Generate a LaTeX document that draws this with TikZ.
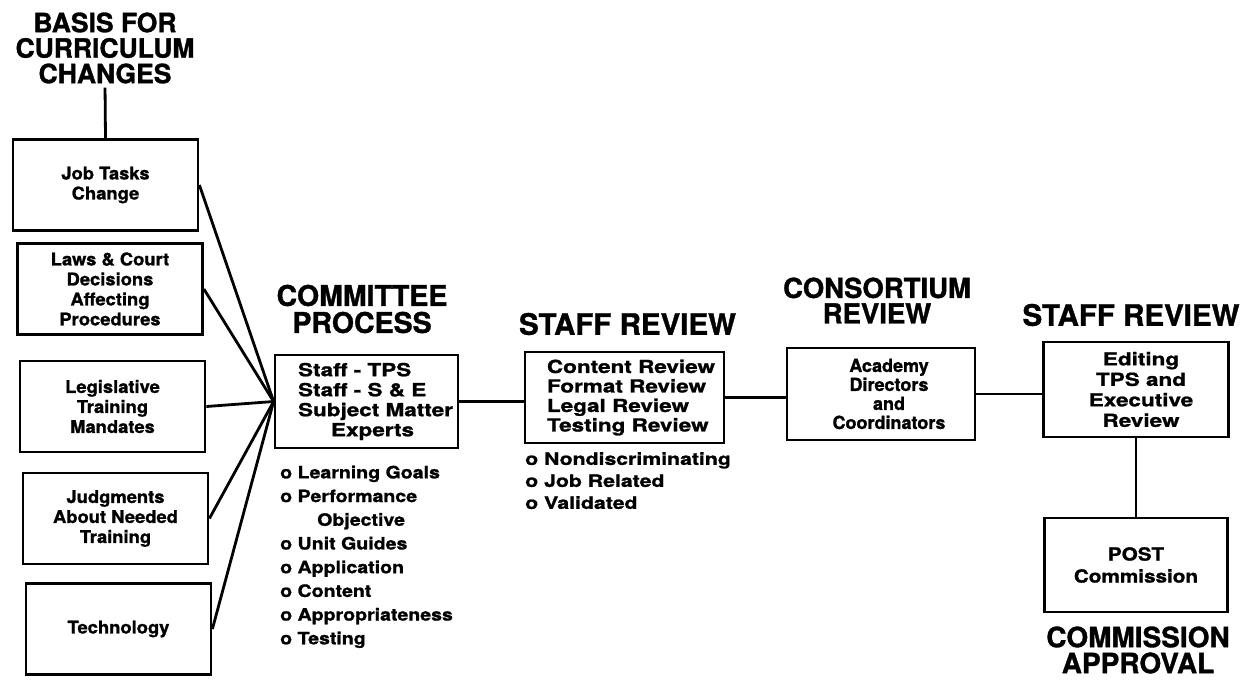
\documentclass[tikz,border=0pt]{standalone}
\usepackage{fontspec}
\setmainfont{TeX Gyre Heros}[BoldFeatures={FakeBold=1.2}]
\newfontfamily\hvA{TeX Gyre Heros}[FakeStretch=1.05, BoldFeatures={FakeBold=1.2}]
\newfontfamily\hvB{TeX Gyre Heros}[FakeStretch=1.25, BoldFeatures={FakeBold=1.2}]
\newfontfamily\hvC{TeX Gyre Heros}[FakeStretch=1.15, BoldFeatures={FakeBold=1.2}]
\tikzset{
  ttl/.style={inner sep=0pt, align=center, font=\fontsize{28}{25.5}\selectfont\bfseries},
  lbox/.style={draw, line width=2.8pt, minimum width=185pt, minimum height=91pt, inner sep=0pt, align=center, font=\hvA\fontsize{17.5}{20}\selectfont\bfseries},
  cbox/.style={draw, line width=2.8pt, inner sep=0pt, align=center, font=\hvB\fontsize{18}{20}\selectfont\bfseries},
  blist/.style={inner sep=0pt, align=left, anchor=north west, font=\hvC\fontsize{17}{23.7}\selectfont\bfseries},
  conn/.style={line width=2.8pt}
}
\begin{document}
\begin{tikzpicture}[x=1pt,y=-1pt]
\useasboundingbox (0,0) rectangle (1240,683);
% titles
\node[ttl, font=\fontsize{26.5}{25.5}\selectfont\bfseries] (basis) at (105,48) {BASIS FOR\\CURRICULUM\\CHANGES};
\node[ttl, font=\fontsize{28.5}{27}\selectfont\bfseries] (cpt) at (362,309) {COMMITTEE\\PROCESS};
\node[ttl, font=\fontsize{29.5}{25.5}\selectfont\bfseries] (s1t) at (627.5,324) {STAFF REVIEW};
\node[ttl, font=\fontsize{27.5}{25.5}\selectfont\bfseries] (cst) at (877,300.5) {CONSORTIUM\\REVIEW};
\node[ttl, font=\fontsize{29.5}{25.5}\selectfont\bfseries] (s2t) at (1131,315) {STAFF REVIEW};
\node[ttl, font=\fontsize{28}{26}\selectfont\bfseries] (cat) at (1138,650) {COMMISSION\\APPROVAL};
% left boxes
\node[lbox] (job) at (105.5,185) {Job Tasks\\Change};
\node[lbox] (laws) at (110,289) {Laws \& Court\\Decisions\\Affecting\\Procedures};
\node[lbox] (legis) at (112.5,406.5) {Legislative\\Training\\Mandates};
\node[lbox] (judg) at (115.5,518.5) {Judgments\\About Needed\\Training};
\node[lbox] (tech) at (118.5,629) {Technology};
% process boxes
\node[cbox, minimum width=183pt, minimum height=93pt, align=left] (comm) at (366.5,401.5)
  {\hspace*{18pt}Staff - TPS\\\hspace*{18pt}Staff - S \& E\\\hspace*{18pt}Subject Matter\\\hspace*{51pt}Experts};
\node[cbox, minimum width=199pt, minimum height=91pt, align=left, font=\hvB\fontsize{18}{19.5}\selectfont\bfseries] (rev1) at (624.5,397.5)
  {\hspace*{13pt}Content Review\\\hspace*{13pt}Format Review\\\hspace*{13pt}Legal Review\\\hspace*{13pt}Testing Review};
\node[cbox, minimum width=188pt, minimum height=92pt, font=\fontsize{18}{19}\selectfont\bfseries] (cons) at (881,394)
  {\hspace*{16pt}Academy\\\hspace*{16pt}Directors\\\hspace*{16pt}and\\\hspace*{16pt}Coordinators};
\node[cbox, minimum width=185pt, minimum height=95pt, font=\hvB\fontsize{18}{20.5}\selectfont\bfseries] (rev2) at (1136,389.5)
  {\hspace*{10pt}Editing\\\hspace*{10pt}TPS and\\\hspace*{10pt}Executive\\\hspace*{10pt}Review};
\node[cbox, minimum width=183pt, minimum height=94pt, font=\hvC\fontsize{18}{22}\selectfont\bfseries] (post) at (1136,565)
  {POST\\Commission};
% bullet lists
\node[blist] (cbul) at (280,465.5) {o Learning Goals\\o Performance\\\hspace*{37pt}Objective\\o Unit Guides\\o Application\\o Content\\o Appropriateness\\o Testing};
\node[blist, font=\hvB\fontsize{17}{22}\selectfont\bfseries] (sbul) at (525,452) {o Nondiscriminating\\o Job Related\\o Validated};
% connectors
\draw[conn, shorten <=4pt] (basis.south) -- (job.north);
\draw[conn] (job.east) -- (comm.west);
\draw[conn] (laws.east) -- (comm.west);
\draw[conn] (legis.east) -- (comm.west);
\draw[conn] (judg.east) -- (comm.west);
\draw[conn] (tech.east) -- (comm.west);
\draw[conn] (comm.east) -- (comm.east -| rev1.west);
\draw[conn] (rev1.east) -- (rev1.east -| cons.west);
\draw[conn] (cons.east) -- (cons.east -| rev2.west);
\draw[conn] (rev2.south) -- (post.north);
\end{tikzpicture}
\end{document}
